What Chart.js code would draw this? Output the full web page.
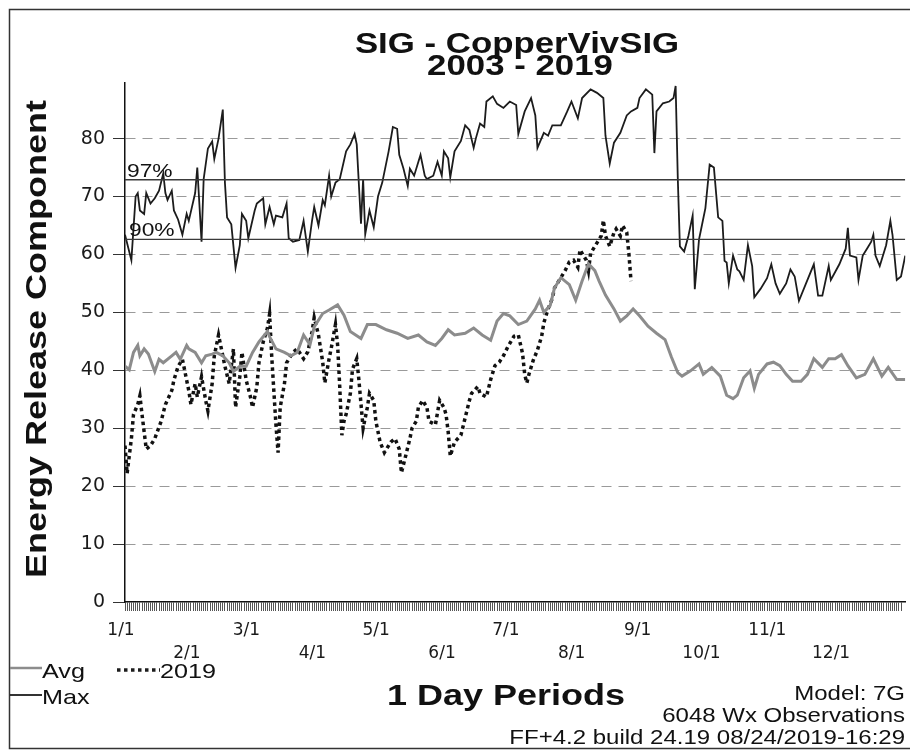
<!DOCTYPE html>
<html>
<head>
<meta charset="utf-8">
<title>SIG - CopperVivSIG</title>
<script src="https://cdn.jsdelivr.net/npm/chart.js@4.4.1/dist/chart.umd.min.js"></script>
<style>
  body { margin: 0; background: #fff; }
  #wrap { width: 910px; height: 753px; }
</style>
</head>
<body>
<div id="wrap"><canvas id="ercChart"></canvas></div>
<script>
// [day of year (0 = 1/1), ERC]
const maxSeries = [
  [0,63.4],[3,59],[5,70],[6,70.6],[7,67.6],[9,67],[10,70.6],[12,68.8],[14,69.7],[16,71],[18,74],[19,70.6],
  [20,69.4],[22,71],[23,67.6],[25,66],[27,63.4],[29,67],[30,65.8],[33,70.6],[34,75],[36,62.2],[37,73],
  [39,78.3],[41,79.5],[42,76.5],[44,80],[46,85],[47,72.4],[48,66.4],[50,65.2],[52,57.7],[54,61.6],[55,67],
  [57,65.8],[58,62.8],[61,67.6],[62,68.8],[65,69.7],[66,65.2],[68,68.2],[70,65.2],[71,66.7],[74,66.4],
  [76,68.8],[77,62.8],[79,62.2],[82,62.5],[84,65.8],[86,60.5],[88,65.9],[89,68.2],[91,65],[93,69.4],
  [94,68.5],[96,73.6],[97,70],[99,72.4],[101,73],[104,77.8],[106,79],[108,80.8],[109,79],[111,65.3],
  [112,73],[113,63.5],[115,67.6],[117,64.7],[119,70],[121,72.4],[124,77.8],[126,82],[128,81.7],[129,77.2],
  [131,74.8],[133,71.8],[134,74.8],[136,73.6],[138,76],[139,77.2],[141,73.6],[142,73],[145,73.6],[147,76],
  [149,73.6],[150,77.8],[152,76.6],[153,73.3],[155,77.8],[158,79.6],[160,82.3],[162,81.5],[164,78.4],
  [165,80],[167,82.6],[169,82],[170,86.4],[173,87.3],[175,86],[178,85.3],[181,86.4],[184,85.8],[185,80.8],
  [188,84.7],[191,87],[193,84],[194,78.4],[197,81],[199,80.5],[201,82.3],[205,82.3],[208,84.7],[210,86.4],
  [213,83.5],[215,87],[219,88.5],[222,87.9],[225,87],[226,80.5],[228,75.7],[230,79.3],[233,81],[236,84],
  [238,84.7],[241,85.3],[242,87],[245,88.5],[248,87.6],[249,77.5],[250,84.7],[253,86.1],[256,86.4],
  [258,87],[259,89.1],[260,73.3],[261,61.4],[263,60.5],[265,63.2],[267,66.7],[268,54],[270,62.6],
  [271,64.4],[273,68],[275,75.5],[277,75],[279,66.4],[281,65.8],[282,58.9],[283,58.6],[284,55],[286,59.8],
  [288,57.4],[289,57.1],[291,55.6],[293,61.6],[295,58],[296,52.6],[299,54.1],[302,55.9],[304,58.3],
  [306,55],[308,53.2],[311,55],[313,57.4],[315,56.2],[317,52],[320,54.7],[324,58.3],[326,52.9],[328,52.9],
  [331,58],[332,55.6],[336,58.3],[339,61],[340,64.6],[341,59.8],[344,59.5],[345,55.6],[347,59.8],[349,61],
  [351,62.2],[352,63.4],[353,59.8],[355,58],[358,61.6],[360,65.8],[361,63.4],[363,55.6],[365,56.2],
  [367,59.8],[369,63.4]
];

const avgSeries = [
  [0,40.7],[2,40.1],[4,43.1],[6,44.3],[7,42.5],[9,43.7],[11,42.8],[14,39.8],[16,41.9],[18,41.3],[22,42.5],
  [24,43.1],[26,41.9],[29,44.3],[30,43.7],[33,43.1],[36,41.3],[38,42.5],[41,42.8],[43,43.1],[46,42.5],
  [49,41.3],[51,39.8],[54,40.7],[57,40.7],[60,43.1],[63,44.9],[67,46.7],[68,45.8],[71,43.7],[75,43.1],
  [78,42.5],[81,43.1],[84,46.1],[87,44.4],[89,47.5],[93,49.8],[96,50.4],[100,51.3],[103,49.5],[106,46.7],
  [111,45.5],[114,47.9],[118,47.9],[123,47],[128,46.4],[133,45.5],[138,46.1],[142,44.9],[146,44.3],
  [149,45.5],[152,47],[155,46.1],[160,46.4],[164,47.3],[168,46.1],[172,45.2],[175,48.5],[178,49.8],
  [181,49.4],[185,47.9],[189,48.5],[193,50.6],[195,52.1],[197,50],[200,51.2],[202,54.2],[205,56],
  [209,54.8],[212,52.1],[215,55.4],[218,58.4],[221,57.2],[223,55.4],[226,53],[230,50.6],[233,48.5],
  [236,49.4],[239,50.6],[242,49.4],[246,47.6],[250,46.4],[254,45.3],[257,42.3],[260,39.6],[262,39],
  [266,39.9],[270,41.1],[272,39.3],[276,40.5],[280,39],[283,35.7],[286,35.1],[288,35.7],[291,38.7],
  [294,39.9],[296,36.9],[298,39.3],[302,41.1],[305,41.4],[308,40.8],[311,39.3],[314,38.1],[318,38.1],
  [321,39.3],[324,42],[328,40.5],[331,42],[334,42],[337,42.7],[340,40.8],[344,38.7],[348,39.3],[352,42],
  [356,39],[359,40.5],[363,38.4],[367,38.4],[369,39]
];

const season2019 = [
  [0,27],[1,22.2],[2,25.2],[3,28.2],[4,32.4],[6,34.1],[7,35.6],[8,32.4],[9,29.4],[10,26.4],[12,27],
  [14,28.2],[17,31.2],[19,34.1],[22,36.5],[23,38.3],[25,40.7],[27,41.9],[28,40.1],[30,36.5],[31,34.1],
  [33,37.7],[34,35.4],[36,38.9],[38,34.7],[39,33],[41,37.7],[42,42.5],[44,46.1],[46,42.5],[47,40.7],
  [49,37.7],[51,43.7],[52,33.6],[54,38.9],[55,43.1],[57,38.3],[59,35.4],[60,33.6],[62,37.1],[63,41.3],
  [65,44.9],[67,47.3],[68,49.7],[69,42.5],[70,36.5],[71,30.6],[72,25.8],[73,33.6],[75,37.7],[76,41.3],
  [79,43.1],[81,43.7],[84,42],[86,43.2],[88,46.7],[89,49.1],[91,46.1],[93,41.4],[94,37.8],[96,42],
  [97,43.8],[99,47.9],[100,44.4],[101,37.2],[102,28.8],[103,31.2],[104,32.4],[106,36],[107,40.2],[109,42],
  [110,38.4],[112,30],[114,33.6],[115,36],[117,34.8],[118,31.2],[120,27.6],[122,25.8],[125,27.6],
  [127,28.2],[129,26.4],[130,22.3],[132,25.2],[134,28.2],[135,30],[137,31.2],[138,33.6],[140,34.8],
  [142,33.6],[143,31.2],[146,30.6],[148,34.8],[150,33.6],[151,32.4],[152,29.4],[153,25.2],[155,27.6],
  [158,28.8],[160,31.8],[162,34.8],[163,36],[166,37.2],[167,36],[170,35.4],[172,38.4],[174,40.8],
  [176,41.4],[178,42.5],[180,44],[183,45.9],[185,46.1],[187,42.9],[188,39.3],[189,37.8],[190,39.3],
  [192,41.7],[194,43.5],[196,45.9],[197,48.2],[199,50.6],[201,52.4],[202,54.2],[205,56],[207,57.2],
  [209,58.7],[211,59],[213,57.8],[214,60.8],[217,59],[218,57.2],[219,60.2],[221,61.4],[222,62],
  [224,63.2],[225,65.9],[226,63.2],[228,61.4],[230,63.8],[231,64.4],[233,63.2],[234,65],[236,63.8],
  [237,60.2],[238,55.4]
];

const pct97 = 72.9;
const pct90 = 62.6;

const monthStarts = [0, 31, 59, 90, 120, 151, 181, 212, 243, 273, 304, 334];
const monthLabels = ['1/1', '2/1', '3/1', '4/1', '5/1', '6/1', '7/1', '8/1', '9/1', '10/1', '11/1', '12/1'];

const dayMax = 367;
const toXY = arr => arr.map(([x, y]) => ({ x, y }));

// the printout's lettering runs wider than Liberation Sans, so stretch it a bit
const SX = 1.2;
function wideText(ctx, str, x, y, font, align) {
  ctx.save();
  ctx.font = font;
  ctx.textAlign = 'left';
  ctx.textBaseline = 'alphabetic';
  const w = ctx.measureText(str).width * SX;
  let left = x;
  if (align === 'center') left = x - w / 2;
  if (align === 'right') left = x - w;
  ctx.translate(left, y);
  ctx.scale(SX, 1);
  ctx.fillText(str, 0, 0);
  ctx.restore();
}

const printout = {
  id: 'printout',
  afterDraw(chart) {
    const ctx = chart.ctx;
    const y = chart.scales.y;
    const area = chart.chartArea;
    ctx.save();
    ctx.fillStyle = '#111';

    // page frame
    ctx.strokeStyle = '#333';
    ctx.lineWidth = 1.5;
    ctx.strokeRect(9.5, 9.5, 906, 739);

    wideText(ctx, 'SIG - CopperVivSIG', 517, 53, 'bold 29px "Liberation Sans"', 'center');
    wideText(ctx, '2003 - 2019', 520, 75, 'bold 29px "Liberation Sans"', 'center');

    ctx.save();
    ctx.translate(46, 339);
    ctx.rotate(-Math.PI / 2);
    wideText(ctx, 'Energy Release Component', 0, 0, 'bold 30px "Liberation Sans"', 'center');
    ctx.restore();

    wideText(ctx, '1 Day Periods', 506, 705, 'bold 30px "Liberation Sans"', 'center');

    wideText(ctx, '97%', area.left + 2, y.getPixelForValue(pct97) - 3, '19px "Liberation Sans"', 'left');
    wideText(ctx, '90%', area.left + 4, y.getPixelForValue(pct90) - 3, '19px "Liberation Sans"', 'left');

    // legend
    ctx.lineWidth = 2.5;
    ctx.strokeStyle = '#8c8c8c';
    ctx.beginPath(); ctx.moveTo(10, 668); ctx.lineTo(42, 668); ctx.stroke();
    ctx.strokeStyle = '#1c1c1c';
    ctx.lineWidth = 1.8;
    ctx.beginPath(); ctx.moveTo(10, 695); ctx.lineTo(42, 695); ctx.stroke();
    ctx.lineWidth = 3.5;
    ctx.setLineDash([3.5, 3.5]);
    ctx.beginPath(); ctx.moveTo(117, 670); ctx.lineTo(160, 670); ctx.stroke();
    ctx.setLineDash([]);
    wideText(ctx, 'Avg', 42, 678, '21px "Liberation Sans"', 'left');
    wideText(ctx, '2019', 160, 678, '21px "Liberation Sans"', 'left');
    wideText(ctx, 'Max', 42, 704, '21px "Liberation Sans"', 'left');

    wideText(ctx, 'Model: 7G', 905, 700, '20px "Liberation Sans"', 'right');
    wideText(ctx, '6048 Wx Observations', 905, 722, '20px "Liberation Sans"', 'right');
    wideText(ctx, 'FF+4.2 build 24.19 08/24/2019-16:29', 905, 744, '20px "Liberation Sans"', 'right');
    ctx.restore();
  }
};

new Chart(document.getElementById('ercChart'), {
  type: 'line',
  data: {
    datasets: [
      { label: '97%', data: [{ x: 0, y: pct97 }, { x: dayMax, y: pct97 }], borderColor: '#3a3a3a', borderWidth: 1.3 },
      { label: '90%', data: [{ x: 0, y: pct90 }, { x: dayMax, y: pct90 }], borderColor: '#3a3a3a', borderWidth: 1.3 },
      { label: 'Avg', data: toXY(avgSeries), borderColor: '#8c8c8c', borderWidth: 3 },
      { label: 'Max', data: toXY(maxSeries), borderColor: '#1c1c1c', borderWidth: 1.8 },
      { label: '2019', data: toXY(season2019), borderColor: '#111', borderWidth: 3.5, borderDash: [3.5, 3.5] }
    ]
  },
  options: {
    responsive: true,
    maintainAspectRatio: false,
    animation: false,
    layout: { padding: { left: 65, top: 83, right: 0, bottom: 91 } },
    elements: { point: { radius: 0 }, line: { tension: 0 } },
    plugins: { legend: { display: false }, tooltip: { enabled: false } },
    scales: {
      x: {
        type: 'linear',
        min: 0,
        max: dayMax,
        afterBuildTicks: scale => {
          const ticks = [];
          for (let d = 0; d <= 365; d++) ticks.push({ value: d });
          scale.ticks = ticks;
        },
        afterFit: scale => { scale.height = 60; },
        ticks: {
          autoSkip: false,
          maxRotation: 0,
          minRotation: 0,
          padding: 9,
          labelOffset: -4,
          color: '#1a1a1a',
          font: { family: 'DejaVu Sans', size: 17, lineHeight: 1.3 },
          callback: value => {
            const i = monthStarts.indexOf(value);
            if (i < 0) return '';
            return i % 2 ? ['', monthLabels[i]] : monthLabels[i];
          }
        },
        grid: { drawOnChartArea: false, tickLength: 9, tickColor: '#555', tickWidth: 1 },
        border: { color: '#111', width: 1.5 }
      },
      y: {
        min: 0,
        max: 89.6,
        afterFit: scale => { scale.width = 60; },
        ticks: {
          stepSize: 10,
          includeBounds: false,
          padding: 8,
          color: '#1a1a1a',
          font: { family: 'DejaVu Sans', size: 19 }
        },
        grid: {
          color: c => (c.tick && c.tick.value === 0 ? 'rgba(0,0,0,0)' : '#9a9a9a'),
          tickColor: '#333',
          tickLength: 12,
          lineWidth: 1
        },
        border: { color: '#111', width: 1.5, dash: [10, 7] }
      }
    }
  },
  plugins: [printout]
});
</script>
</body>
</html>
